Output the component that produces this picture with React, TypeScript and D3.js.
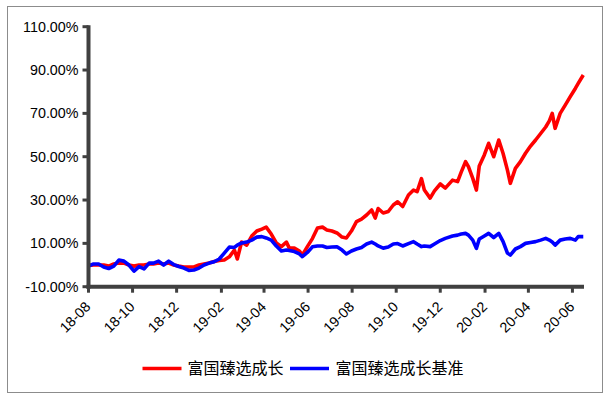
import React from "react";
import { scaleTime, scaleLinear, line, timeParse, timeFormat } from "d3";

const dates = [
  "2018-08-07", "2018-08-14", "2018-08-21", "2018-08-28", "2018-09-04", "2018-09-11", "2018-09-18", "2018-09-25",
  "2018-10-02", "2018-10-09", "2018-10-16", "2018-10-23", "2018-10-30", "2018-11-05", "2018-11-12", "2018-11-19",
  "2018-11-26", "2018-12-03", "2018-12-10", "2018-12-17", "2018-12-24", "2018-12-31", "2019-01-07", "2019-01-14",
  "2019-01-21", "2019-01-28", "2019-02-04", "2019-02-11", "2019-02-18", "2019-02-25", "2019-03-01", "2019-03-07",
  "2019-03-14", "2019-03-21", "2019-03-28", "2019-04-04", "2019-04-10", "2019-04-17", "2019-04-24", "2019-05-01",
  "2019-05-08", "2019-05-12", "2019-05-19", "2019-05-26", "2019-05-30", "2019-06-06", "2019-06-13", "2019-06-20",
  "2019-06-27", "2019-07-03", "2019-07-10", "2019-07-17", "2019-07-24", "2019-07-30", "2019-08-06", "2019-08-13",
  "2019-08-20", "2019-08-27", "2019-09-03", "2019-09-08", "2019-09-12", "2019-09-19", "2019-09-26", "2019-10-03",
  "2019-10-09", "2019-10-16", "2019-10-24", "2019-10-31", "2019-11-05", "2019-11-11", "2019-11-15", "2019-11-23",
  "2019-11-29", "2019-12-07", "2019-12-14", "2019-12-24", "2019-12-31", "2020-01-05", "2020-01-11", "2020-01-15",
  "2020-01-21", "2020-01-26", "2020-01-30", "2020-02-06", "2020-02-12", "2020-02-19", "2020-02-26", "2020-03-03",
  "2020-03-09", "2020-03-13", "2020-03-20", "2020-03-27", "2020-04-03", "2020-04-10", "2020-04-17", "2020-04-24",
  "2020-05-01", "2020-05-06", "2020-05-10", "2020-05-14", "2020-05-21", "2020-05-28", "2020-06-04", "2020-06-11",
  "2020-06-15", "2020-06-22",
];

// 富国臻选成长 (%)
const fundValues = [
  -0.2, 0, 0, 0, -0.5, 0.5, 0.9, 0.9,
  0, -0.5, 0, 0, 0.5, 0.5, 0.9, 0.5,
  0.9, 0, -0.5, -0.9, -0.9, -0.9, 0, 0.5,
  0.9, 1.6, 2.1, 2.3, 3.8, 6.9, 2.8, 10.6,
  9.2, 13.4, 15.7, 16.6, 17.5, 14.3, 10.2, 8.5,
  10.6, 7.8, 7.8, 6.5, 4.6, 8.5, 12.2, 17.1,
  17.5, 16.2, 15.7, 14.8, 12.9, 12.5, 15.7, 20.0,
  21.2, 23.1, 25.4, 21.7, 26.1, 24.0, 24.7, 27.7,
  29.2, 27.0, 32.3, 34.6, 33.9, 39.9, 34.6, 30.9,
  34.2, 37.4, 35.5, 39.2, 38.5, 42.9, 47.7, 45.4,
  40.0, 34.6, 45.7, 50.8, 56.2, 50.0, 57.7, 51.5,
  43.8, 37.7, 44.6, 47.7, 51.6, 54.9, 57.7, 60.7,
  63.7, 66.5, 70.0, 63.1, 70.0, 73.8, 77.7, 81.5,
  83.8, 87.7,
];

// 富国臻选成长基准 (%)
const benchValues = [
  -0.5, 0.5, 0.5, -0.9, -1.6, -0.5, 2.3, 1.8,
  0, -2.8, -0.7, -1.8, 0.9, 0.9, 1.8, 0,
  1.8, 0.2, -0.7, -1.4, -2.5, -2.3, -1.4, 0,
  0.9, 1.5, 2.8, 5.5, 8.3, 8.1, 9.2, 10.2,
  10.6, 11.5, 12.9, 13.1, 12.5, 11.5, 8.8, 6.5,
  6.9, 6.7, 6.2, 5.1, 3.9, 5.8, 8.4, 8.8,
  8.8, 8.1, 8.3, 8.4, 6.9, 5.1, 6.5, 7.4,
  8.1, 9.7, 10.6, 9.7, 8.8, 7.8, 8.3, 9.7,
  9.9, 8.8, 9.9, 10.8, 9.7, 8.5, 8.8, 8.5,
  9.7, 11.3, 12.3, 13.4, 13.8, 14.3, 14.6, 13.8,
  11.5, 7.7, 12.0, 13.4, 14.6, 12.7, 14.6, 10.8,
  5.5, 4.6, 7.4, 8.5, 10.0, 10.4, 10.8, 11.5,
  12.3, 11.5, 10.6, 9.2, 11.5, 12.0, 12.3, 11.5,
  13.1, 13.1,
];

const xTickDates = [
  "2018-08-07", "2018-10-07", "2018-12-07", "2019-02-07", "2019-04-07", "2019-06-07",
  "2019-08-07", "2019-10-07", "2019-12-07", "2020-02-07", "2020-04-07", "2020-06-07",
];
const yTicks = [-10, 10, 30, 50, 70, 90, 110];
const seriesNames = ["富国臻选成长", "富国臻选成长基准"];
const seriesColors = ["#FF0000", "#0000FF"];

const parse = timeParse("%Y-%m-%d");
const fmtX = timeFormat("%y-%m");

export default function App() {
  const width = 609;
  const height = 398;
  const left = 88.5;
  const right = 584;
  const top = 26.7;
  const bottom = 286.7;

  const x = scaleTime()
    .domain([parse("2018-08-07"), parse("2020-06-23")])
    .range([left, right]);
  const y = scaleLinear().domain([-10, 110]).range([bottom, top]);

  const rows = dates.map((d, i) => ({ date: parse(d), fund: fundValues[i], bench: benchValues[i] }));
  const fundLine = line<any>().x(d => x(d.date)).y(d => y(d.fund));
  const benchLine = line<any>().x(d => x(d.date)).y(d => y(d.bench));

  const axisColor = "#404040";
  const font = "'Liberation Sans', Arial, sans-serif";

  return (
    <svg width={width} height={height} style={{ position: "absolute", left: 0, top: 0, background: "#fff" }}>
      <rect x={7.5} y={6.5} width={595} height={386} fill="#fff" stroke="#8c8c8c" strokeWidth={1} />

      <path d={fundLine(rows) || ""} fill="none" stroke={seriesColors[0]} strokeWidth={3.6} strokeLinejoin="round" />
      <path d={benchLine(rows) || ""} fill="none" stroke={seriesColors[1]} strokeWidth={3.6} strokeLinejoin="round" />

      {/* y axis */}
      <line x1={left} x2={left} y1={top - 1.5} y2={bottom + 2} stroke={axisColor} strokeWidth={4} />
      {yTicks.map(t => (
        <g key={t}>
          <line x1={left - 6} x2={left} y1={y(t)} y2={y(t)} stroke={axisColor} strokeWidth={3} />
          <text x={78.5} y={y(t)} dy="0.34em" textAnchor="end" fontFamily={font} fontSize={14.3} fill="#000">
            {t.toFixed(2) + "%"}
          </text>
        </g>
      ))}

      {/* x axis */}
      <line x1={left - 2} x2={right} y1={bottom} y2={bottom} stroke={axisColor} strokeWidth={4} />
      {xTickDates.map(d => {
        const tx = x(parse(d));
        return (
          <g key={d}>
            <line x1={tx} x2={tx} y1={bottom} y2={bottom + 6} stroke={axisColor} strokeWidth={3} />
            <text
              transform={`translate(${tx + 3},${bottom + 21}) rotate(-45)`}
              textAnchor="end"
              fontFamily={font}
              fontSize={14.3}
              fill="#000"
            >
              {fmtX(parse(d))}
            </text>
          </g>
        );
      })}

      {/* legend */}
      {[
        { lx: 142.5, tx: 187.5 },
        { lx: 290, tx: 335.5 },
      ].map((p, i) => (
        <g key={i}>
          <line x1={p.lx} x2={p.lx + 39} y1={368.5} y2={368.5} stroke={seriesColors[i]} strokeWidth={3.5} />
          <text x={p.tx} y={368.5} dy="0.36em" fontFamily="'Noto Sans CJK SC', sans-serif" fontSize={16} fill="#000">
            {seriesNames[i]}
          </text>
        </g>
      ))}
    </svg>
  );
}
